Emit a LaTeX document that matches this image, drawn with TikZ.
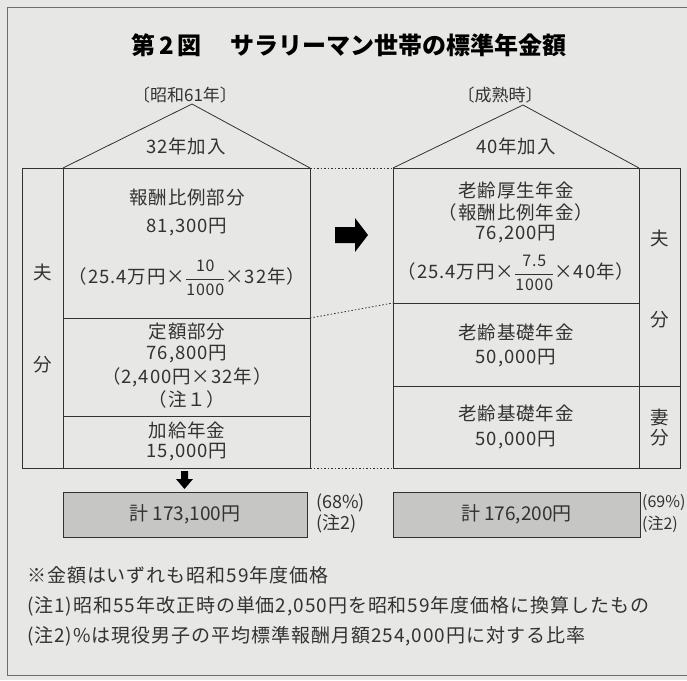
\documentclass[tikz,border=0pt]{standalone}
\usepackage{fontspec}
\setmainfont{Noto Sans CJK JP}
\definecolor{bg}{RGB}{231,231,229}
\definecolor{ink}{RGB}{50,50,50}
\definecolor{framec}{RGB}{110,110,110}
\definecolor{totfill}{RGB}{198,198,196}
\newcommand\myfrac[2]{$\displaystyle\frac{\hbox{\fontsize{16}{16}\selectfont #1}}{\hbox{\fontsize{16}{16}\selectfont #2}}$}
\begin{document}
\begin{tikzpicture}[x=1pt,y=-1pt,
  txt/.style={inner sep=0pt, text=ink, font=\fontsize{18.5}{21}\selectfont\addfontfeature{LetterSpace=5}},
  labtxt/.style={inner sep=0pt, text=ink, font=\fontsize{17}{19}\selectfont},
  notetxt/.style={inner sep=0pt, text=ink, anchor=west, font=\fontsize{19}{21}\selectfont\addfontfeature{LetterSpace=5}},
  pcttxt/.style={inner sep=0pt, text=ink, anchor=west, font=\fontsize{18}{20}\selectfont},
  titletxt/.style={inner sep=0pt, text=black, font=\bfseries\fontsize{24}{27}\selectfont},
  boxline/.style={draw=ink, line width=0.8pt},
  dotline/.style={draw=ink, line width=0.8pt, dash pattern=on 1.5pt off 2pt},
  framel/.style={draw=framec, line width=1pt},
  totalbox/.style={draw=ink, line width=1pt, fill=totfill, inner sep=0pt, text=ink,
     font=\fontsize{19}{21}\selectfont},
  arrowfill/.style={fill=black}]
\useasboundingbox[fill=bg] (0,0) rectangle (687,680);
% frame
\draw[framel] (687,7) -- (7,7) -- (7,675) -- (687,675);
% title
\node[titletxt] (title) at (349,45) {第\,2\,図\hspace{1.2em}サラリーマン世帯の標準年金額};
% labels
\node[labtxt] (lab1) at (185,95) {〔昭和61年〕};
\node[labtxt] (lab2) at (500,95) {〔成熟時〕};
% left house coordinates
\coordinate (LoTL) at (22,168);
\coordinate (LiTL) at (63,168);
\coordinate (LTR) at (310,168);
\coordinate (LoBL) at (22,468);
\coordinate (LiBL) at (63,468);
\coordinate (LBR) at (310,468);
\coordinate (LD1a) at (63,318);
\coordinate (LD1b) at (310,318);
\coordinate (LD2a) at (63,416);
\coordinate (LD2b) at (310,416);
\coordinate (Lapex) at (192,104);
\draw[boxline] (LoTL) rectangle (LBR);
\draw[boxline] (LiTL) -- (LiBL);
\draw[boxline] (LD1a) -- (LD1b);
\draw[boxline] (LD2a) -- (LD2b);
\draw[boxline] (LiTL) -- (Lapex) -- (LTR);
% right house coordinates
\coordinate (RTL) at (393,168);
\coordinate (RTR) at (639,168);
\coordinate (RoTR) at (680,168);
\coordinate (RBL) at (393,468);
\coordinate (RBR) at (639,468);
\coordinate (RoBR) at (680,468);
\coordinate (RD1a) at (393,303);
\coordinate (RD1b) at (639,303);
\coordinate (RD2a) at (393,386);
\coordinate (RD2b) at (680,386);
\coordinate (Rapex) at (523,105);
\draw[boxline] (RTL) rectangle (RoBR);
\draw[boxline] (RTR) -- (RBR);
\draw[boxline] (RD1a) -- (RD1b);
\draw[boxline] (RD2a) -- (RD2b);
\draw[boxline] (RTL) -- (Rapex) -- (RTR);
% dotted connectors
\draw[dotline] (LTR) -- (RTL);
\draw[dotline] (LD1b) -- (RD1a);
\draw[dotline] (LBR) -- (RBL);
% left texts
\node[txt] (l0) at (186,146) {32年加入};
\node[txt] (l1) at (187,198) {報酬比例部分};
\node[txt] (l2) at (187,227) {81,300円};
\node[txt] (l3) at (187,278) {（25.4万円×\myfrac{10}{1000}×32年）};
\node[txt] (l4) at (187,332) {定額部分};
\node[txt] (l5) at (187,354) {76,800円};
\node[txt] (l6) at (187,377) {（2,400円×32年）};
\node[txt] (l7) at (187,399) {（注１）};
\node[txt] (l8) at (187,430) {加給年金};
\node[txt] (l9) at (187,452) {15,000円};
\node[txt] (lh) at (43,272) {夫};
\node[txt] (lw) at (43,365) {分};
% right texts
\node[txt] (r0) at (516,146) {40年加入};
\node[txt] (r1) at (516,190) {老齢厚生年金};
\node[txt] (r2) at (516,212) {（報酬比例年金）};
\node[txt] (r3) at (516,234) {76,200円};
\node[txt] (r4) at (516,273) {（25.4万円×\myfrac{7.5}{1000}×40年）};
\node[txt] (r5) at (516,332) {老齢基礎年金};
\node[txt] (r6) at (516,358) {50,000円};
\node[txt] (r7) at (516,413) {老齢基礎年金};
\node[txt] (r8) at (516,440) {50,000円};
\node[txt] (rs1) at (660,238) {夫};
\node[txt] (rs2) at (660,320) {分};
\node[txt] (rs3) at (660,417) {妻};
\node[txt] (rs4) at (660,438) {分};
% arrows
\fill[arrowfill] (335,227) -- (355,227) -- (355,218) -- (368,235) -- (355,252) -- (355,243) -- (335,243) -- cycle;
\fill[arrowfill] (181,471) -- (188,471) -- (188,479) -- (193,479) -- (184.5,489) -- (176,479) -- (181,479) -- cycle;
% totals
\node[totalbox, minimum width=244pt, minimum height=45pt] (tot1) at (185,514.5) {計\ 173,100円};
\node[totalbox, minimum width=247pt, minimum height=45pt] (tot2) at (516.5,514.5) {計\ 176,200円};
\node[pcttxt] (p1) at (316,503) {(68\%)};
\node[pcttxt] (p1n) at (316,524) {(注2)};
\node[pcttxt, font=\fontsize{16}{18}\selectfont] (p2) at (642,503) {(69\%)};
\node[pcttxt, font=\fontsize{16}{18}\selectfont] (p2n) at (642,524) {(注2)};
% notes
\node[notetxt] (n1) at (27,575) {※金額はいずれも昭和59年度価格};
\node[notetxt] (n2) at (27,606) {(注1)昭和55年改正時の単価2,050円を昭和59年度価格に換算したもの};
\node[notetxt] (n3) at (27,636) {(注2)\%は現役男子の平均標準報酬月額254,000円に対する比率};
\end{tikzpicture}
\end{document}
